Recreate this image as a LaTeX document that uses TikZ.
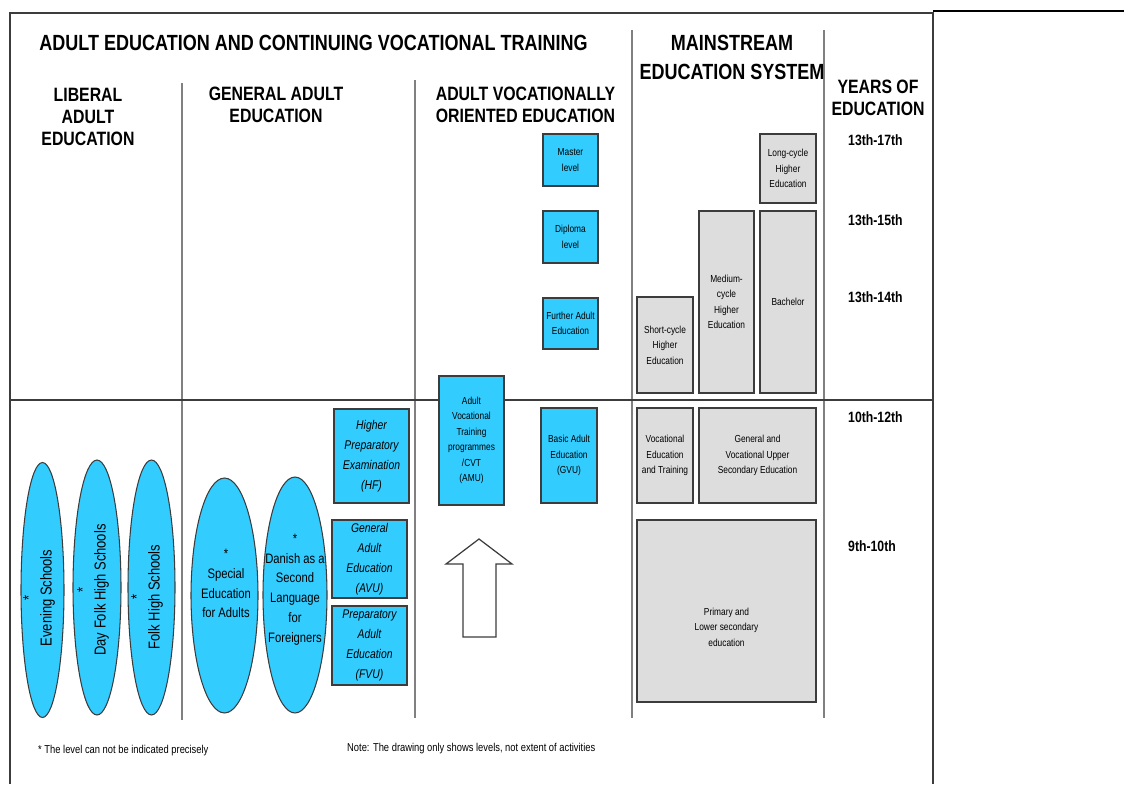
\documentclass[tikz,border=0pt]{standalone}
\usepackage{fontspec}
\setmainfont{Liberation Sans}[FakeStretch=0.82]
\usetikzlibrary{shapes.geometric}
\definecolor{edublue}{RGB}{51,204,255}
\definecolor{edugrey}{RGB}{221,221,221}
\definecolor{edudark}{RGB}{60,60,60}

\begin{document}
\begin{tikzpicture}[x=0.02cm,y=-0.02cm,
    boxfont/.style={align=center,font=\fontsize{5.8}{8.8}\selectfont},
    bluebox/.style={boxfont,draw=edudark,fill=edublue,line width=0.8pt,inner sep=1pt},
    greybox/.style={boxfont,draw=edudark,fill=edugrey,line width=0.8pt,inner sep=1pt},
    italbox/.style={bluebox,font=\fontsize{7.2}{11.3}\selectfont\itshape},
    oval/.style={ellipse,draw=edudark,fill=edublue,line width=0.6pt,inner sep=0pt},
    ovaltext/.style={align=center,font=\fontsize{9}{10}\selectfont},
    ovalsmall/.style={align=center,font=\fontsize{7.8}{11.3}\selectfont},
    header/.style={align=center,font=\fontsize{11}{12.5}\selectfont\bfseries},
    bigheader/.style={align=center,font=\fontsize{12.5}{16.4}\selectfont\bfseries},
    years/.style={anchor=west,font=\fontsize{8.5}{10}\selectfont\bfseries},
    sepline/.style={gray,line width=0.9pt},
    note/.style={anchor=west,font=\fontsize{6.5}{8}\selectfont}]
    \useasboundingbox (0,0) rectangle (1124,784);

    % frame and column lines
    \draw[edudark,line width=1.2pt] (10,784) -- (10,13) -- (933,13) -- (933,784);
    \draw[black,line width=0.6pt] (933,11) -- (1124,11);
    \draw[sepline] (182,83) -- (182,720);
    \draw[sepline] (415,80) -- (415,718);
    \draw[sepline] (632,30) -- (632,718);
    \draw[sepline] (824,30) -- (824,718);
    \draw[edudark,line width=0.8pt] (10,400) -- (933,400);

    % headings
    \node[bigheader] (title) at (313.5,43) {ADULT EDUCATION AND CONTINUING VOCATIONAL TRAINING};
    \node[bigheader] (mainstream) at (732,57.5) {MAINSTREAM\\EDUCATION SYSTEM};
    \node[header] (liberal) at (88,117) {LIBERAL\\ADULT\\EDUCATION};
    \node[header] (general) at (276,104.5) {GENERAL ADULT\\EDUCATION};
    \node[header] (vocational) at (525.5,104.5) {ADULT VOCATIONALLY\\ORIENTED EDUCATION};
    \node[header] (yearshead) at (878,98) {YEARS OF\\EDUCATION};

    % years of education
    \node[years] (y1) at (842,140) {13th-17th};
    \node[years] (y2) at (842,220) {13th-15th};
    \node[years] (y3) at (842,297) {13th-14th};
    \node[years] (y4) at (842,417) {10th-12th};
    \node[years] (y5) at (842,546) {9th-10th};

    % liberal adult education
    \node[oval,minimum width=0.86cm,minimum height=5.10cm] (evening) at (42.5,590) {};
    \node[oval,minimum width=0.96cm,minimum height=5.10cm] (dayfolk) at (97,587.5) {};
    \node[oval,minimum width=0.94cm,minimum height=5.10cm] (folk) at (151.5,587.5) {};
    \node[ovaltext,rotate=90] (eveningtxt) at (39,598) {*\\Evening Schools};
    \node[ovaltext,rotate=90] (dayfolktxt) at (93,590) {*\\Day Folk High Schools};
    \node[ovaltext,rotate=90] (folktxt) at (147,597) {*\\Folk High Schools};

    % general adult education
    \node[oval,minimum width=1.34cm,minimum height=4.70cm] (special) at (224.5,595.5) {};
    \node[oval,minimum width=1.28cm,minimum height=4.72cm] (danish) at (295,595) {};
    \node[ovalsmall] (specialtxt) at (226,583.5) {*\\Special\\Education\\for Adults};
    \node[ovalsmall] (danishtxt) at (295,589.5) {*\\Danish as a\\Second\\Language\\for\\Foreigners};
    \node[italbox,minimum width=1.50cm,minimum height=1.88cm] (hf) at (371.5,456) {Higher\\Preparatory\\Examination\\(HF)};
    \node[italbox,minimum width=1.50cm,minimum height=1.56cm] (avu) at (369.5,559) {General\\Adult\\Education\\(AVU)};
    \node[italbox,minimum width=1.50cm,minimum height=1.58cm] (fvu) at (369.5,645.5) {Preparatory\\Adult\\Education\\(FVU)};

    % adult vocationally oriented education
    \node[bluebox,minimum width=1.30cm,minimum height=2.58cm] (amu) at (471.5,440.5) {Adult\\Vocational\\Training\\programmes\\/CVT\\(AMU)};
    \node[bluebox,minimum width=1.12cm,minimum height=1.90cm] (gvu) at (569,455.5) {Basic Adult\\Education\\(GVU)};
    \node[bluebox,minimum width=1.10cm,minimum height=1.02cm] (further) at (570.5,323.5) {Further Adult\\Education};
    \node[bluebox,minimum width=1.10cm,minimum height=1.04cm] (diploma) at (570.5,237) {Diploma\\level};
    \node[bluebox,minimum width=1.10cm,minimum height=1.04cm] (master) at (570.5,160) {Master\\level};
    \draw[edudark,fill=white,line width=0.7pt] (479,539) -- (512,564) -- (496,564) -- (496,637)
        -- (463,637) -- (463,564) -- (446,564) -- cycle;

    % mainstream education system
    \node[greybox,minimum width=3.58cm,minimum height=3.64cm,
        label={[boxfont,yshift=-0.32cm]center:{Primary and\\Lower secondary\\education}}] (primary) at (726.5,611) {};
    \node[greybox,minimum width=1.12cm,minimum height=1.90cm] (vet) at (665,455.5) {Vocational\\Education\\and Training};
    \node[greybox,minimum width=2.34cm,minimum height=1.90cm] (uppersec) at (757.5,455.5) {General and\\Vocational Upper\\Secondary Education};
    \node[greybox,minimum width=1.12cm,minimum height=1.92cm] (shortcycle) at (665,345) {Short-cycle\\Higher\\Education};
    \node[greybox,minimum width=1.10cm,minimum height=3.64cm] (medium) at (726.5,302) {Medium-\\cycle\\Higher\\Education};
    \node[greybox,minimum width=1.12cm,minimum height=3.64cm] (bachelor) at (788,302) {Bachelor};
    \node[greybox,minimum width=1.12cm,minimum height=1.38cm] (longcycle) at (788,168.5) {Long-cycle\\Higher\\Education};

    % notes
    \node[note] (levelnote) at (32,751) {* The level can not be indicated precisely};
    \node[note] (drawnote) at (341,749) {Note: The drawing only shows levels, not extent of activities};
\end{tikzpicture}
\end{document}
